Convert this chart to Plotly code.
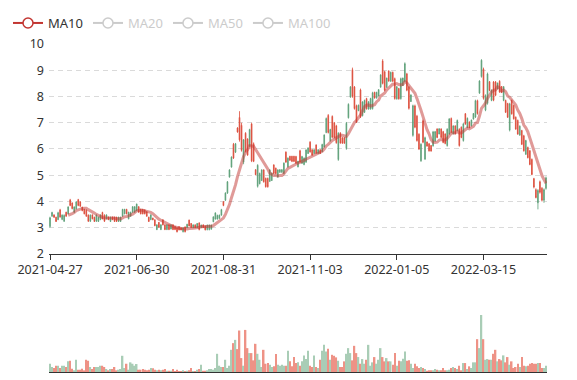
import plotly.graph_objects as go

# ---------------- data ----------------
tick_labels = ['2021-04-27', '2021-06-30', '2021-08-31', '2021-11-03', '2022-01-05', '2022-03-15']
label_step = 43  # trading days between two labelled dates

open_ = [
    3.05, 3.44, 3.49, 3.40, 3.31, 3.68, 3.32, 3.25, 3.59, 3.53,
    4.06, 3.94, 3.59, 3.72, 4.07, 3.98, 3.78, 3.70, 3.67, 3.48,
    3.25, 3.49, 3.40, 3.25, 3.24, 3.31, 3.58, 3.48, 3.34, 3.41,
    3.24, 3.41, 3.40, 3.40, 3.24, 3.24, 3.44, 3.53, 3.70, 3.34,
    3.44, 3.59, 3.59, 3.65, 3.80, 3.70, 3.70, 3.68, 3.61, 3.40,
    3.31, 3.37, 3.30, 2.93, 3.20, 2.93, 3.30, 3.11, 2.93, 3.11,
    2.95, 3.11, 3.05, 3.00, 3.04, 3.00, 2.85, 3.03, 3.00, 3.29,
    3.16, 3.00, 3.11, 3.00, 3.18, 3.00, 3.11, 3.07, 2.93, 2.93,
    2.95, 3.23, 3.33, 3.33, 3.36, 3.48, 3.99, 4.05, 4.32, 4.93,
    5.31, 6.18, 5.88, 6.80, 7.20, 6.90, 5.50, 6.60, 6.38, 6.10,
    6.95, 6.20, 5.21, 4.58, 4.68, 4.80, 5.20, 4.88, 4.88, 4.77,
    4.80, 5.39, 5.27, 4.93, 5.11, 5.11, 5.07, 5.88, 5.32, 5.72,
    5.72, 5.72, 5.71, 5.32, 5.93, 5.46, 5.41, 5.50, 5.83, 6.26,
    5.97, 5.83, 6.15, 5.83, 5.97, 5.90, 6.08, 6.63, 7.28, 6.31,
    7.24, 7.00, 6.88, 5.60, 6.61, 6.43, 6.43, 6.02, 7.19, 7.98,
    9.02, 8.36, 7.65, 7.46, 8.25, 7.27, 7.40, 7.92, 7.52, 7.52,
    7.54, 8.16, 7.94, 8.02, 8.36, 9.35, 8.94, 8.35, 8.97, 8.58,
    8.92, 8.68, 7.91, 8.30, 7.92, 8.42, 8.57, 8.86, 8.35, 7.81,
    6.52, 7.64, 7.25, 6.56, 5.55, 7.07, 5.62, 6.27, 6.20, 6.13,
    6.12, 6.30, 6.76, 6.57, 6.76, 6.66, 6.57, 6.13, 6.57, 7.16,
    6.58, 6.88, 6.70, 6.75, 6.83, 6.32, 7.34, 6.82, 7.03, 6.88,
    7.14, 7.22, 7.84, 8.13, 8.76, 9.04, 7.48, 7.74, 8.56, 7.85,
    8.55, 8.55, 8.29, 8.58, 8.38, 7.85, 7.85, 7.73, 6.72, 7.85,
    7.66, 7.21, 7.09, 6.53, 6.70, 6.50, 5.80, 6.06, 5.93, 5.60,
    4.87, 4.45, 3.95, 4.75, 4.50, 4.05, 4.50,
]
high = [
    3.42, 3.61, 3.51, 3.42, 3.61, 3.72, 3.51, 3.51, 3.61, 3.82,
    4.10, 3.97, 3.82, 4.01, 4.10, 4.01, 3.80, 3.72, 3.70, 3.51,
    3.51, 3.51, 3.42, 3.51, 3.42, 3.51, 3.61, 3.51, 3.51, 3.42,
    3.42, 3.42, 3.42, 3.42, 3.42, 3.42, 3.72, 3.72, 3.72, 3.61,
    3.61, 3.82, 3.82, 3.92, 3.82, 3.72, 3.72, 3.70, 3.63, 3.42,
    3.51, 3.38, 3.32, 3.13, 3.22, 3.13, 3.32, 3.13, 3.13, 3.13,
    3.13, 3.13, 3.06, 3.01, 3.05, 3.01, 3.01, 3.05, 3.15, 3.31,
    3.18, 3.12, 3.12, 3.18, 3.21, 3.12, 3.12, 3.08, 3.12, 3.12,
    3.12, 3.44, 3.59, 3.50, 3.50, 3.72, 4.01, 4.35, 4.78, 5.23,
    5.72, 6.23, 6.23, 6.83, 7.44, 7.00, 6.38, 6.64, 6.41, 6.77,
    7.00, 6.25, 5.23, 5.42, 5.10, 5.23, 5.23, 4.91, 4.91, 5.23,
    5.10, 5.42, 5.29, 5.23, 5.23, 5.23, 5.49, 5.91, 5.68, 5.74,
    5.74, 5.74, 5.74, 5.55, 5.97, 5.74, 5.68, 5.99, 6.06, 6.30,
    5.99, 5.99, 6.18, 5.99, 5.99, 6.20, 6.56, 7.20, 7.33, 6.77,
    7.28, 7.03, 6.92, 6.64, 6.64, 6.45, 6.45, 7.03, 7.74, 8.40,
    9.10, 8.40, 7.69, 7.69, 8.30, 7.82, 7.88, 7.95, 7.82, 7.95,
    8.18, 8.18, 8.18, 8.28, 8.85, 9.42, 8.98, 8.72, 9.00, 8.95,
    8.95, 8.72, 8.40, 8.33, 8.72, 8.72, 9.30, 8.90, 8.40, 8.08,
    7.69, 7.69, 7.30, 6.60, 6.22, 7.12, 6.47, 6.28, 6.22, 6.15,
    6.69, 6.69, 6.79, 6.79, 6.79, 6.69, 6.60, 6.79, 7.18, 7.20,
    6.90, 6.90, 7.12, 6.79, 6.86, 6.99, 7.37, 7.20, 7.05, 7.12,
    7.37, 7.88, 7.88, 8.62, 9.42, 9.10, 8.08, 8.91, 8.59, 8.27,
    8.59, 8.59, 8.53, 8.62, 8.40, 8.40, 7.88, 7.76, 7.76, 7.88,
    7.69, 7.24, 7.12, 6.90, 6.73, 6.54, 6.35, 6.09, 5.96, 5.64,
    4.90, 4.50, 4.47, 4.80, 4.55, 4.50, 4.95,
]
low = [
    3.00, 3.42, 3.38, 3.22, 3.29, 3.38, 3.29, 3.22, 3.42, 3.51,
    3.82, 3.70, 3.57, 3.70, 3.82, 3.80, 3.63, 3.51, 3.42, 3.22,
    3.22, 3.32, 3.22, 3.22, 3.22, 3.29, 3.32, 3.22, 3.32, 3.29,
    3.22, 3.29, 3.22, 3.22, 3.22, 3.22, 3.42, 3.51, 3.51, 3.32,
    3.42, 3.57, 3.57, 3.63, 3.57, 3.51, 3.51, 3.51, 3.42, 3.22,
    3.29, 3.29, 3.06, 2.91, 3.00, 2.91, 3.09, 2.91, 2.91, 2.91,
    2.94, 2.91, 2.91, 2.82, 2.90, 2.90, 2.82, 2.82, 2.99, 3.05,
    2.99, 2.99, 2.99, 2.99, 2.90, 2.99, 2.99, 2.90, 2.90, 2.90,
    2.92, 3.21, 3.31, 3.31, 3.33, 3.46, 3.82, 4.02, 4.29, 4.91,
    5.29, 5.62, 5.85, 6.62, 6.28, 5.90, 5.42, 5.87, 5.74, 6.06,
    5.50, 5.50, 5.00, 4.53, 4.65, 4.78, 4.72, 4.53, 4.53, 4.74,
    4.78, 5.04, 5.04, 4.91, 5.10, 5.10, 5.04, 5.47, 5.29, 5.55,
    5.50, 5.50, 5.43, 5.30, 5.47, 5.43, 5.38, 5.47, 5.81, 5.86,
    5.74, 5.81, 5.81, 5.81, 5.81, 5.88, 6.05, 6.60, 6.59, 6.28,
    6.41, 6.40, 6.20, 5.55, 6.20, 6.20, 6.20, 5.97, 7.16, 7.95,
    7.95, 7.50, 6.99, 7.44, 7.18, 7.24, 7.37, 7.50, 7.50, 7.50,
    7.50, 7.92, 7.92, 8.00, 8.33, 8.46, 8.20, 8.33, 8.56, 8.56,
    8.56, 7.88, 7.88, 7.88, 7.88, 8.40, 8.53, 8.20, 7.50, 7.79,
    6.47, 6.79, 6.28, 5.96, 5.51, 6.22, 5.58, 6.09, 5.90, 5.90,
    6.09, 6.28, 6.41, 6.56, 6.41, 6.22, 6.18, 6.09, 6.54, 6.60,
    6.56, 6.56, 6.67, 6.09, 6.41, 6.28, 6.92, 6.79, 6.79, 6.86,
    7.12, 7.18, 7.31, 8.10, 8.72, 7.88, 7.44, 7.69, 8.20, 7.82,
    7.82, 8.01, 8.27, 8.14, 8.14, 7.82, 7.37, 7.18, 6.67, 7.31,
    7.12, 6.73, 6.54, 6.50, 6.15, 5.90, 5.77, 5.64, 5.38, 5.00,
    4.50, 4.12, 3.70, 4.30, 4.00, 3.95, 4.45,
]
close = [
    3.38, 3.58, 3.40, 3.24, 3.57, 3.41, 3.48, 3.47, 3.44, 3.79,
    3.85, 3.73, 3.79, 3.98, 3.85, 3.82, 3.65, 3.53, 3.44, 3.25,
    3.48, 3.34, 3.24, 3.48, 3.40, 3.48, 3.34, 3.25, 3.49, 3.31,
    3.40, 3.31, 3.24, 3.24, 3.40, 3.40, 3.70, 3.70, 3.53, 3.59,
    3.59, 3.80, 3.80, 3.90, 3.59, 3.53, 3.53, 3.53, 3.44, 3.24,
    3.49, 3.30, 3.08, 3.11, 3.02, 3.11, 3.11, 2.93, 3.11, 2.93,
    3.11, 2.93, 2.93, 2.85, 2.92, 2.92, 3.00, 2.85, 3.13, 3.07,
    3.01, 3.11, 3.00, 3.16, 2.93, 3.10, 3.01, 2.92, 3.10, 3.10,
    3.10, 3.41, 3.56, 3.47, 3.48, 3.69, 3.85, 4.32, 4.75, 5.20,
    5.69, 5.66, 6.20, 6.65, 6.35, 5.95, 6.35, 5.90, 5.77, 6.74,
    5.55, 5.53, 5.02, 5.38, 5.07, 5.20, 4.75, 4.56, 4.56, 5.20,
    5.07, 5.07, 5.06, 5.20, 5.21, 5.21, 5.46, 5.50, 5.65, 5.57,
    5.53, 5.53, 5.46, 5.53, 5.50, 5.71, 5.65, 5.96, 6.04, 5.89,
    5.77, 5.97, 5.84, 5.97, 5.83, 6.17, 6.53, 7.16, 6.63, 6.74,
    6.45, 6.44, 6.24, 6.60, 6.23, 6.22, 6.22, 6.98, 7.70, 8.36,
    8.00, 7.54, 7.03, 7.67, 7.23, 7.79, 7.85, 7.53, 7.80, 7.92,
    8.14, 7.94, 8.16, 8.26, 8.82, 8.50, 8.24, 8.70, 8.59, 8.92,
    8.58, 7.92, 8.37, 7.91, 8.68, 8.70, 9.25, 8.24, 7.55, 8.06,
    7.65, 6.83, 6.32, 6.00, 6.18, 6.26, 6.43, 6.11, 5.93, 5.92,
    6.65, 6.66, 6.44, 6.77, 6.44, 6.25, 6.21, 6.75, 7.14, 6.64,
    6.88, 6.58, 7.09, 6.13, 6.44, 6.95, 6.95, 7.17, 6.81, 7.10,
    7.35, 7.84, 7.35, 8.59, 9.38, 7.93, 8.04, 8.86, 8.23, 8.24,
    7.86, 8.05, 8.51, 8.17, 8.16, 8.37, 7.40, 7.21, 7.72, 7.34,
    7.15, 6.76, 6.57, 6.87, 6.18, 5.93, 6.32, 5.67, 5.41, 5.03,
    4.55, 4.15, 4.42, 4.35, 4.05, 4.45, 4.90,
]
volume = [
    8.3, 5.0, 4.0, 6.3, 6.3, 4.0, 6.3, 6.3, 5.0, 10.7,
    11.3, 3.3, 1.7, 12.3, 2.3, 2.3, 3.3, 1.7, 12.3, 11.3,
    5.0, 3.0, 5.0, 5.0, 5.0, 6.3, 6.3, 5.0, 3.0, 1.7,
    3.0, 3.0, 5.0, 1.7, 2.3, 3.0, 16.3, 4.0, 8.3, 2.3,
    9.7, 8.3, 6.3, 8.0, 2.3, 2.3, 3.0, 2.3, 1.7, 2.3,
    4.0, 3.7, 2.3, 1.7, 2.3, 1.7, 2.3, 3.0, 1.3, 1.3,
    1.3, 3.0, 1.0, 2.3, 1.0, 0.7, 1.7, 1.0, 1.3, 1.7,
    4.0, 1.0, 1.0, 2.3, 3.0, 7.3, 1.3, 1.3, 1.7, 3.0,
    3.0, 2.3, 4.0, 18.3, 6.3, 5.0, 5.0, 12.3, 4.0, 6.3,
    22.3, 29.0, 32.3, 23.0, 41.7, 14.0, 6.3, 42.3, 24.0, 19.0,
    19.0, 11.7, 28.3, 18.3, 12.3, 5.0, 22.3, 8.3, 9.0, 7.3,
    5.0, 5.7, 18.0, 7.3, 6.3, 7.3, 6.3, 6.3, 21.3, 10.7,
    5.7, 15.0, 9.0, 9.7, 6.3, 10.7, 16.7, 13.0, 21.3, 6.3,
    5.0, 16.7, 5.0, 4.0, 12.3, 21.3, 27.3, 20.7, 23.3, 12.3,
    17.3, 16.3, 14.7, 11.3, 5.0, 5.0, 10.7, 18.3, 24.0, 19.0,
    11.7, 26.3, 19.0, 15.0, 8.3, 13.0, 8.3, 12.3, 27.3, 6.3,
    9.7, 15.0, 8.3, 12.3, 24.0, 15.0, 10.7, 14.0, 10.7, 10.7,
    7.3, 19.0, 6.3, 11.3, 10.7, 13.3, 20.7, 11.3, 11.7, 8.3,
    4.0, 8.3, 5.7, 4.0, 5.0, 4.0, 3.0, 1.3, 1.7, 1.7,
    1.7, 3.0, 2.3, 1.7, 1.7, 4.0, 1.7, 1.7, 2.3, 4.0,
    5.0, 4.0, 3.0, 6.3, 1.7, 9.0, 9.0, 3.0, 5.7, 4.0,
    9.7, 9.7, 33.0, 24.0, 57.3, 33.0, 12.3, 13.0, 12.3, 12.3,
    18.3, 22.3, 10.7, 13.0, 11.7, 16.7, 9.7, 15.0, 7.3, 10.7,
    4.0, 5.0, 8.3, 5.0, 15.0, 6.3, 5.7, 6.3, 8.3, 9.0,
    8.3, 8.3, 9.0, 9.0, 4.0, 4.0, 6.3,
]

# ---------------- derived series ----------------
n = len(close)
idx = list(range(n))


def moving_average(values, window):
    out = []
    for i in range(len(values)):
        if i < window - 1:
            out.append(None)
        else:
            out.append(round(sum(values[i - window + 1:i + 1]) / window, 3))
    return out


ma_windows = [10, 20, 50, 100]
ma = {w: moving_average(close, w) for w in ma_windows}

UP = '#5a9e76'
DOWN = '#dc4a38'
UP_VOL = '#a9cdb6'
DOWN_VOL = '#ee9286'
MA_COLOR = '#c23531'

fig = go.Figure()

fig.add_trace(go.Candlestick(
    x=idx, open=open_, high=high, low=low, close=close,
    increasing=dict(line=dict(color=UP, width=0.8), fillcolor=UP),
    decreasing=dict(line=dict(color=DOWN, width=0.8), fillcolor=DOWN),
    whiskerwidth=0, showlegend=False, hoverinfo='skip',
    xaxis='x', yaxis='y',
))

fig.add_trace(go.Scatter(
    x=idx, y=ma[10], mode='lines', showlegend=False, hoverinfo='skip',
    line=dict(color='rgba(194,53,49,0.5)', width=3),
    xaxis='x', yaxis='y',
))

# legend entries
fig.add_trace(go.Scatter(
    x=[None], y=[None], mode='lines+markers', name='MA10',
    line=dict(color=MA_COLOR, width=2),
    marker=dict(symbol='circle', size=10, color='white', line=dict(color=MA_COLOR, width=1.5)),
    xaxis='x', yaxis='y',
))
for w in ma_windows[1:]:
    fig.add_trace(go.Scatter(
        x=idx, y=ma[w], mode='lines+markers', name='<span style="color:#999">MA%d</span>' % w,
        visible='legendonly',
        line=dict(color='#999', width=2),
        marker=dict(symbol='circle', size=10, color='white', line=dict(color='#999', width=1.5)),
        xaxis='x', yaxis='y',
    ))

vol_colors = [UP_VOL if c >= o else DOWN_VOL for o, c in zip(open_, close)]
fig.add_trace(go.Bar(
    x=idx, y=volume, marker=dict(color=vol_colors, line=dict(width=0)),
    showlegend=False, hoverinfo='skip', xaxis='x2', yaxis='y2',
))

tickvals = list(range(0, n, label_step))[:len(tick_labels)]

# The page body adds an 8px margin, so the figure is 569x372 and fills the 577x380 window.
fig.update_layout(
    width=569, height=372,
    margin=dict(l=41, r=30, t=36, b=8, autoexpand=False),
    paper_bgcolor='white', plot_bgcolor='white',
    font=dict(family='Noto Sans, Open Sans, sans-serif', size=12.5, color='#333'),
    showlegend=True,
    legend=dict(orientation='h', xref='container', yref='container', x=0.0, y=1.0,
                xanchor='left', yanchor='top', font=dict(size=13, color='#333'),
                itemwidth=30, bgcolor='rgba(0,0,0,0)', itemclick=False, itemdoubleclick=False),
    bargap=0.25,
    boxgap=0.5,
    xaxis=dict(domain=[0, 1], range=[-0.5, n - 0.5], tickmode='array', tickvals=tickvals,
               ticktext=tick_labels, ticks='outside', ticklen=5, tickcolor='#333',
               ticklabelstandoff=-1,
               showline=True, linecolor='#333', linewidth=1, showgrid=False, zeroline=False,
               anchor='y', rangeslider=dict(visible=False)),
    yaxis=dict(domain=[0.3598, 1], range=[2, 10], dtick=1, tick0=2, showgrid=True,
               gridcolor='#dadada', griddash='5px,4px', zeroline=False, showline=False,
               ticks='', ticklabelstandoff=4, anchor='x'),
    xaxis2=dict(domain=[0, 1], range=[-0.5, n - 0.5], showticklabels=False, ticks='',
                showline=True, linecolor='#333', linewidth=1, showgrid=False, zeroline=False,
                anchor='y2'),
    yaxis2=dict(domain=[0, 0.1738], range=[0, max(volume)], visible=False, anchor='x2'),
)

fig.write_html('out.html')
